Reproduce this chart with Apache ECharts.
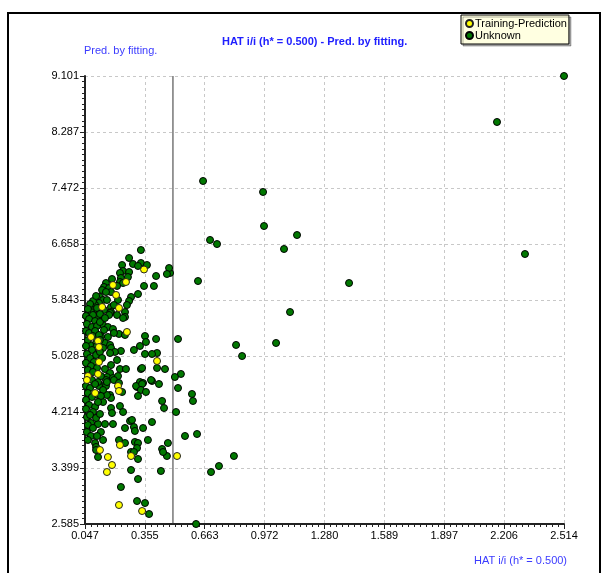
<!DOCTYPE html>
<html>
<head>
<meta charset="utf-8">
<script src="https://cdn.jsdelivr.net/npm/echarts@6/dist/echarts.min.js"></script>
<style>
  html, body { margin: 0; padding: 0; background: #fff; }
  #chart { width: 603px; height: 573px; }
</style>
</head>
<body>
<div id="chart"></div>
<script>
const xTicks = ['0.047', '0.355', '0.663', '0.972', '1.280', '1.589', '1.897', '2.206', '2.514']
const yTicks = ['2.585', '3.399', '4.214', '5.028', '5.843', '6.658', '7.472', '8.287', '9.101']
const xMin = 0.047, xMax = 2.514
const yMin = 2.585, yMax = 9.101
const hStar = 0.5

// [HAT i/i, Pred. by fitting]
const trainingPrediction = [
  [0.351, 6.287], [0.258, 6.105], [0.191, 6.061], [0.207, 5.916], [0.222, 5.727],
  [0.135, 5.741], [0.263, 5.378], [0.078, 5.305], [0.114, 5.247], [0.119, 5.159],
  [0.418, 4.956], [0.119, 4.941], [0.114, 4.767], [0.062, 4.737], [0.057, 4.679],
  [0.099, 4.490], [0.217, 4.592], [0.222, 4.519], [0.227, 3.734], [0.124, 3.661],
  [0.165, 3.559], [0.186, 3.443], [0.160, 3.341], [0.284, 3.574], [0.521, 3.574],
  [0.222, 2.861], [0.341, 2.774]
]

const unknown = [
  [2.514, 9.101], [2.169, 8.432], [2.313, 6.512], [1.407, 6.090], [0.655, 7.574],
  [0.964, 7.414], [0.969, 6.919], [0.691, 6.716], [0.727, 6.657], [1.139, 6.788],
  [1.072, 6.585], [0.629, 6.119], [1.103, 5.668], [0.825, 5.189], [0.856, 5.028],
  [1.031, 5.218], [0.526, 5.276], [0.541, 4.767], [0.598, 4.476], [0.603, 4.374],
  [0.526, 4.563], [0.516, 4.214], [0.562, 3.865], [0.624, 3.894], [0.814, 3.574],
  [0.737, 3.428], [0.696, 3.341], [0.619, 2.585],
  [0.474, 3.763], [0.444, 3.676], [0.469, 3.574], [0.438, 3.356], [0.444, 4.374],
  [0.454, 4.272], [0.392, 4.068], [0.428, 4.621], [0.392, 4.665], [0.459, 4.839],
  [0.418, 4.854], [0.510, 4.723], [0.335, 4.839], [0.418, 5.072], [0.392, 5.058],
  [0.356, 5.058], [0.330, 5.174], [0.299, 5.116], [0.356, 5.319], [0.361, 5.232],
  [0.413, 5.276],
  [0.485, 6.236], [0.480, 6.308], [0.469, 6.221], [0.413, 6.192], [0.351, 6.047],
  [0.402, 6.047],
  [0.335, 6.570], [0.274, 6.454], [0.238, 6.352], [0.243, 6.265], [0.227, 6.236],
  [0.294, 6.367], [0.335, 6.381], [0.366, 6.352], [0.320, 6.338], [0.274, 6.250],
  [0.268, 6.177], [0.232, 6.163], [0.227, 6.105], [0.243, 6.090], [0.155, 6.090],
  [0.145, 6.032], [0.171, 6.017], [0.135, 5.988], [0.181, 5.959], [0.320, 5.930],
  [0.284, 5.887], [0.274, 5.828], [0.263, 5.770],
  [0.124, 5.887], [0.140, 5.843], [0.119, 5.799], [0.129, 5.727], [0.099, 5.770],
  [0.088, 5.828], [0.181, 5.741], [0.181, 5.668], [0.253, 5.668], [0.093, 5.698],
  [0.078, 5.668], [0.253, 5.596], [0.212, 5.625], [0.176, 5.654], [0.243, 5.581],
  [0.171, 5.625], [0.145, 5.698], [0.114, 5.581], [0.088, 5.625],
  [0.140, 5.479], [0.165, 5.450], [0.145, 5.407], [0.191, 5.421], [0.222, 5.349],
  [0.253, 5.334], [0.196, 5.363], [0.165, 5.305], [0.129, 5.319], [0.150, 5.218],
  [0.104, 5.218], [0.176, 5.189], [0.181, 5.145], [0.140, 5.145], [0.099, 5.159],
  [0.073, 5.189], [0.232, 5.101], [0.201, 5.087], [0.176, 5.072],
  [0.212, 4.970], [0.227, 4.839], [0.258, 4.839], [0.181, 4.897], [0.150, 4.839],
  [0.176, 4.781], [0.160, 4.723], [0.191, 4.708], [0.217, 4.737], [0.196, 4.679],
  [0.155, 4.679], [0.330, 4.650], [0.387, 4.679], [0.341, 4.854], [0.222, 4.636],
  [0.315, 4.577], [0.346, 4.636],
  [0.124, 4.607], [0.119, 4.592], [0.155, 4.592], [0.160, 4.650], [0.114, 4.650],
  [0.176, 4.461], [0.181, 4.418], [0.140, 4.359], [0.227, 4.301], [0.181, 4.272],
  [0.186, 4.199], [0.243, 4.214], [0.310, 4.592], [0.341, 4.621], [0.335, 4.534],
  [0.361, 4.505], [0.320, 4.447], [0.238, 4.505], [0.160, 4.461],
  [0.279, 4.083], [0.289, 4.098], [0.057, 4.141], [0.078, 4.054], [0.062, 4.025],
  [0.114, 4.039], [0.150, 4.039], [0.191, 4.039], [0.253, 3.981], [0.299, 3.996],
  [0.304, 3.938], [0.346, 3.981], [0.129, 3.923], [0.140, 3.807], [0.099, 3.763],
  [0.104, 3.705], [0.222, 3.807], [0.253, 3.763], [0.304, 3.778], [0.320, 3.763],
  [0.315, 3.690], [0.284, 3.632], [0.371, 3.807], [0.104, 3.661], [0.114, 3.559],
  [0.299, 3.632], [0.320, 3.530], [0.284, 3.370], [0.320, 3.239], [0.232, 3.123],
  [0.315, 2.919], [0.356, 2.890], [0.377, 2.730], [0.449, 3.632],
  [0.073, 5.785], [0.109, 5.727], [0.062, 5.712], [0.052, 5.610], [0.068, 5.567],
  [0.099, 5.537], [0.124, 5.639], [0.057, 5.494], [0.083, 5.450], [0.109, 5.465],
  [0.124, 5.523], [0.052, 5.392], [0.068, 5.363], [0.099, 5.392], [0.062, 5.261],
  [0.088, 5.319], [0.119, 5.334], [0.052, 5.174], [0.083, 5.116], [0.124, 5.261],
  [0.057, 5.058], [0.073, 4.999], [0.104, 5.043], [0.124, 5.087], [0.093, 4.941],
  [0.052, 4.927], [0.078, 4.883], [0.109, 4.854], [0.135, 4.999], [0.062, 4.825],
  [0.088, 4.796], [0.083, 4.679], [0.129, 4.737], [0.052, 4.592], [0.073, 4.563],
  [0.099, 4.621], [0.140, 4.534], [0.062, 4.490], [0.083, 4.432], [0.114, 4.461],
  [0.052, 4.389], [0.129, 4.447], [0.068, 4.316], [0.099, 4.287], [0.088, 4.214],
  [0.114, 4.359], [0.052, 4.258], [0.073, 4.170], [0.104, 4.127], [0.124, 4.185],
  [0.088, 3.981], [0.057, 3.923], [0.078, 3.865], [0.062, 3.807], [0.109, 3.865],
  [0.186, 6.148], [0.212, 6.047], [0.155, 5.959], [0.104, 5.901], [0.217, 5.843],
  [0.160, 5.843], [0.196, 5.770], [0.150, 5.581]
]

const xStep = (xMax - xMin) / 8
const yStep = (yMax - yMin) / 8

const chart = echarts.init(document.getElementById('chart'))

const font = 'Liberation Sans'

const option = {
  backgroundColor: '#ffffff',
  animation: false,
  title: {
    text: 'HAT i/i (h* = 0.500) - Pred. by fitting.',
    left: 222,
    top: 36,
    padding: 0,
    textStyle: { color: '#2020ff', fontSize: 11, fontWeight: 'bold', fontFamily: font }
  },
  legend: {
    orient: 'vertical',
    left: 461,
    top: 15,
    padding: [3, 2, 3, 4],
    itemGap: 1,
    itemWidth: 7,
    itemHeight: 7,
    icon: 'circle',
    backgroundColor: '#ffffe1',
    borderColor: '#000',
    borderWidth: 1,
    borderRadius: 0,
    shadowColor: 'rgba(0,0,0,0.3)',
    shadowOffsetX: 2,
    shadowOffsetY: 2,
    textStyle: { color: '#000', fontSize: 11, fontFamily: font, padding: [0, 0, 0, -3] },
    data: ['Training-Prediction', 'Unknown']
  },
  graphic: [
    {
      type: 'rect',
      shape: { x: 8, y: 13, width: 592, height: 580 },
      style: { fill: null, stroke: '#000', lineWidth: 2 },
      silent: true
    },
    {
      type: 'text',
      left: 84,
      top: 45,
      style: { text: 'Pred. by fitting.', fill: '#3b3bff', fontSize: 11, fontFamily: font }
    },
    {
      type: 'text',
      left: 474,
      top: 555,
      style: { text: 'HAT i/i (h* = 0.500)', fill: '#3b3bff', fontSize: 11, fontFamily: font }
    }
  ],
  grid: { left: 85, right: 39, top: 76, bottom: 49, containLabel: false },
  xAxis: {
    type: 'value',
    min: xMin,
    max: xMax,
    interval: xStep,
    axisLine: { show: true, onZero: false, lineStyle: { color: '#222', width: 2 } },
    axisTick: { show: true, length: 5, lineStyle: { color: '#222' } },
    minorTick: { show: true, splitNumber: 10, length: 3, lineStyle: { color: '#222' } },
    axisLabel: {
      color: '#000', fontSize: 11, fontFamily: font, margin: 6,
      showMinLabel: true, showMaxLabel: true,
      formatter: v => xTicks[Math.round((v - xMin) / xStep)]
    },
    splitLine: { show: true, lineStyle: { color: '#c8c8c8', type: [3, 3] } }
  },
  yAxis: {
    type: 'value',
    min: yMin,
    max: yMax,
    interval: yStep,
    axisLine: { show: true, onZero: false, lineStyle: { color: '#222', width: 2 } },
    axisTick: { show: true, length: 5, lineStyle: { color: '#222' } },
    minorTick: { show: true, splitNumber: 10, length: 3, lineStyle: { color: '#222' } },
    axisLabel: {
      color: '#000', fontSize: 11, fontFamily: font, margin: 6,
      showMinLabel: true, showMaxLabel: true,
      formatter: v => yTicks[Math.round((v - yMin) / yStep)]
    },
    splitLine: { show: true, lineStyle: { color: '#c8c8c8', type: [3, 3] } }
  },
  series: [
    {
      name: 'h*',
      type: 'line',
      data: [[hStar, yMin], [hStar, yMax]],
      symbol: 'none',
      silent: true,
      z: 1,
      lineStyle: { color: '#333', width: 1 }
    },
    {
      name: 'Unknown',
      type: 'scatter',
      symbolSize: 7,
      z: 3,
      itemStyle: { color: '#007800', borderColor: '#000', borderWidth: 1, opacity: 1 },
      data: unknown
    },
    {
      name: 'Training-Prediction',
      type: 'scatter',
      symbolSize: 7,
      z: 4,
      itemStyle: { color: '#ffff00', borderColor: '#222', borderWidth: 1, opacity: 1 },
      data: trainingPrediction
    }
  ]
}

chart.setOption(option)
</script>
</body>
</html>
